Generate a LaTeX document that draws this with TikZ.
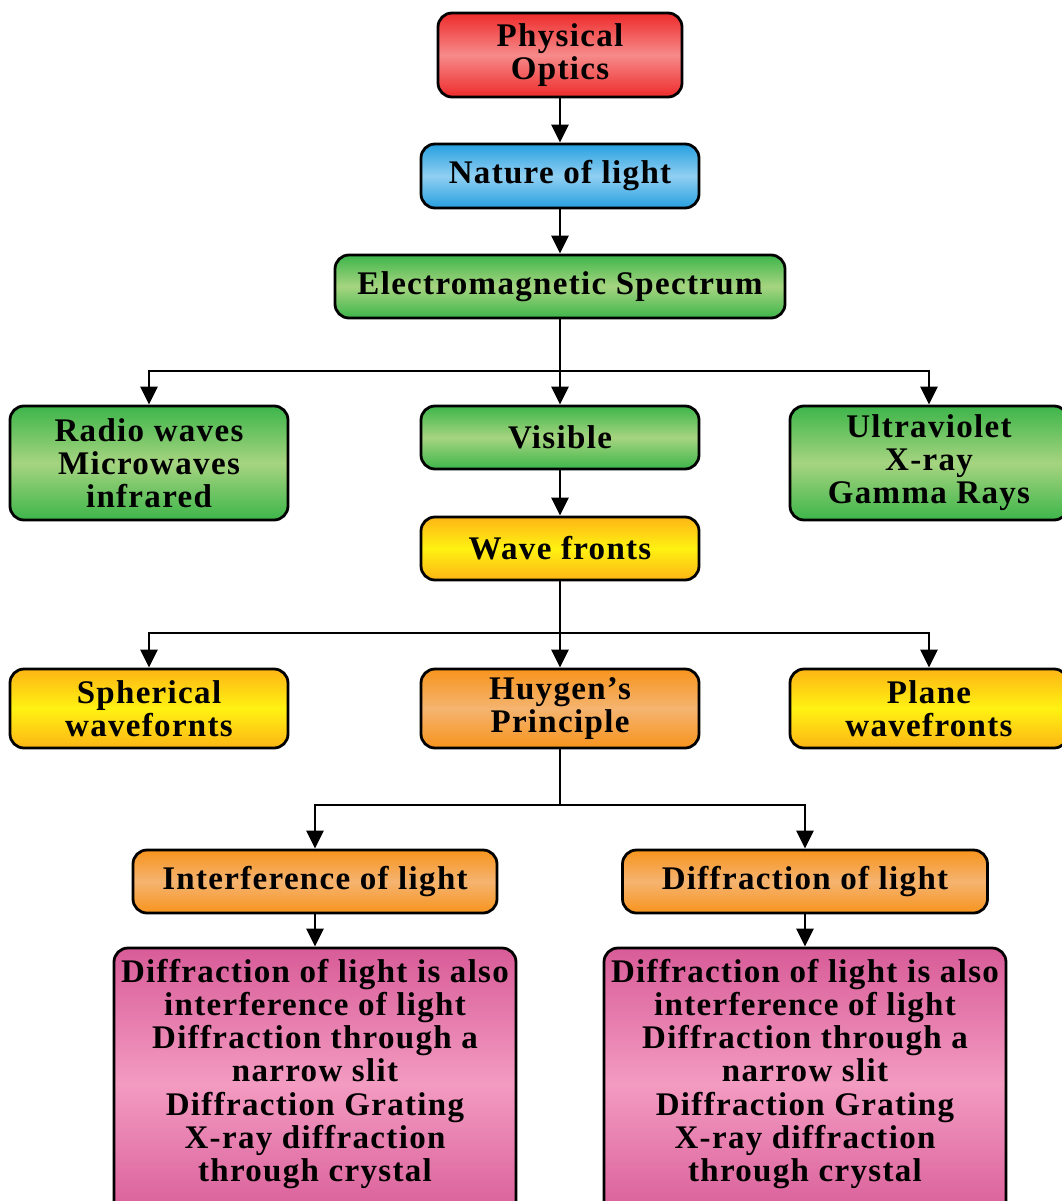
\documentclass[tikz,border=0pt]{standalone}
\usepackage{fontspec}
\setmainfont{Liberation Serif}[LetterSpace=4]
\usetikzlibrary{arrows.meta}
\definecolor{RedTop}{HTML}{EE2B2B}\definecolor{RedMid}{HTML}{F78A8A}
\definecolor{BluTop}{HTML}{27A0E0}\definecolor{BluMid}{HTML}{90CFF2}
\definecolor{GrnTop}{HTML}{3DB54A}\definecolor{GrnMid}{HTML}{A6D480}
\definecolor{YelTop}{HTML}{FDB515}\definecolor{YelMid}{HTML}{FFF212}
\definecolor{OrgTop}{HTML}{F7941D}\definecolor{OrgMid}{HTML}{F5B470}
\definecolor{PnkTop}{HTML}{D85C98}\definecolor{PnkMid}{HTML}{F39BC1}
\begin{document}
\begin{tikzpicture}[x=1pt,y=-1pt,
  box/.style={draw=black, line width=2.8pt, rounded corners=14pt, align=center,
    inner sep=0pt, font=\bfseries\fontsize{33}{33}\selectfont, text=black},
  txt/.style={align=center, inner sep=0pt, font=\bfseries\fontsize{33}{33.3}\selectfont, text=black},
  redbox/.style={top color=RedTop, bottom color=RedTop, middle color=RedMid},
  blubox/.style={top color=BluTop, bottom color=BluTop, middle color=BluMid},
  grnbox/.style={top color=GrnTop, bottom color=GrnTop, middle color=GrnMid},
  yelbox/.style={top color=YelTop, bottom color=YelTop, middle color=YelMid},
  orgbox/.style={top color=OrgTop, bottom color=OrgTop, middle color=OrgMid},
  pnkbox/.style={top color=PnkTop, bottom color=PnkTop, middle color=PnkMid},
  arr/.style={-{Triangle[length=18pt 0,width=17pt 0]}, line width=2.8pt},
  ln/.style={line width=2.8pt}]
\useasboundingbox (0,0) rectangle (1061,1201);

\node[box, redbox, minimum width=244pt, minimum height=84pt] (po) at (560,55) {Physical\\Optics};
\node[box, blubox, minimum width=278pt, minimum height=64pt] (nl) at (560,176) {Nature of light};
\node[box, grnbox, minimum width=450pt, minimum height=63pt] (em) at (560,286.5) {Electromagnetic Spectrum};
\node[box, grnbox, minimum width=278pt, minimum height=114pt] (rw) at (149,463) {Radio waves\\Microwaves\\infrared};
\node[box, grnbox, minimum width=278pt, minimum height=63pt] (vi) at (560,437.5) {Visible};
\node[box, grnbox, minimum width=278pt, minimum height=114pt] (uv) at (929,463) {Ultraviolet\\X-ray\\Gamma Rays};
\node[box, yelbox, minimum width=278pt, minimum height=63pt] (wf) at (560,548.5) {Wave fronts};
\node[box, yelbox, minimum width=278pt, minimum height=79pt] (sp) at (149,708.5) {Spherical\\wavefornts};
\node[box, orgbox, minimum width=278pt, minimum height=79pt] (hp) at (560,708.5) {Huygen’s\\Principle};
\node[box, yelbox, minimum width=278pt, minimum height=79pt] (pw) at (929,708.5) {Plane\\wavefronts};
\node[box, orgbox, minimum width=364pt, minimum height=63pt] (il) at (315,881.5) {Interference of light};
\node[box, orgbox, minimum width=365pt, minimum height=63pt] (dl) at (805,881.5) {Diffraction of light};
\node[box, pnkbox, minimum width=402pt, minimum height=272pt] (pl) at (315,1084) {};
\node[box, pnkbox, minimum width=402pt, minimum height=272pt] (pr) at (805,1084) {};
\node[txt] (plt) at (315,1074) {Diffraction of light is also\\interference of light\\Diffraction through a\\narrow slit\\Diffraction Grating\\X-ray diffraction\\through crystal};
\node[txt] (prt) at (805,1074) {Diffraction of light is also\\interference of light\\Diffraction through a\\narrow slit\\Diffraction Grating\\X-ray diffraction\\through crystal};

\coordinate (j1) at (560,371);
\coordinate (j2) at (560,633);
\coordinate (j3) at (560,805);

\draw[arr] (po) -- (nl);
\draw[arr] (nl) -- (em);
\draw[arr] (em) -- (vi);
\draw[arr] (j1) -| (rw);
\draw[arr] (j1) -| (uv);
\draw[arr] (vi) -- (wf);
\draw[arr] (wf) -- (hp);
\draw[arr] (j2) -| (sp);
\draw[arr] (j2) -| (pw);
\draw[ln] (hp) -- (j3);
\draw[arr] (j3) -| (il);
\draw[arr] (j3) -| (dl);
\draw[arr] (il) -- (pl);
\draw[arr] (dl) -- (pr);
\end{tikzpicture}
\end{document}
